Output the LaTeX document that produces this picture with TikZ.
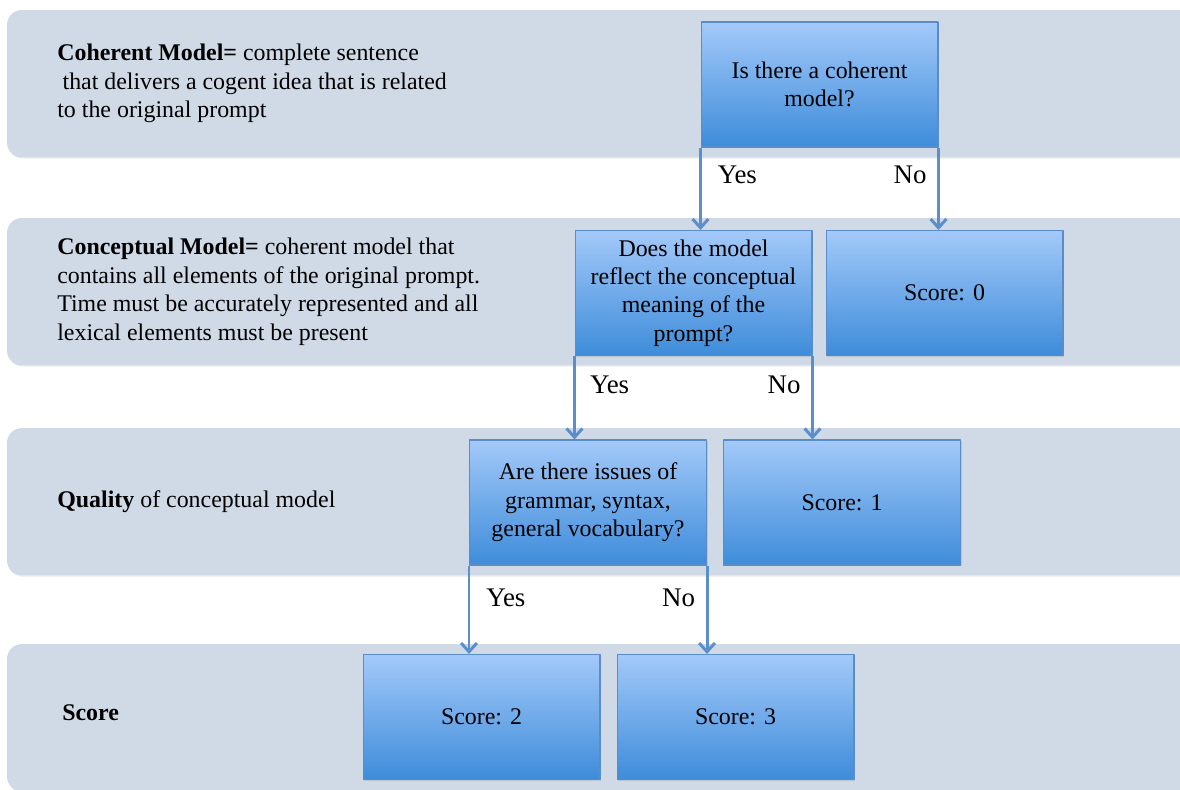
\documentclass[tikz,border=0pt]{standalone}
\usepackage{fontspec}
\setmainfont{Liberation Serif}
\usetikzlibrary{arrows.meta,shadows}
\definecolor{bandgray}{HTML}{CFDAE6}
\definecolor{boxtop}{HTML}{A3C9F9}
\definecolor{boxbot}{HTML}{3E8CDA}
\definecolor{boxline}{HTML}{5A8DC8}
\definecolor{flowblue}{HTML}{5B8FCB}
\newcommand{\txtfont}{\fontsize{13.6}{16.2}\selectfont}
\tikzset{
	band/.style={fill=bandgray, rounded corners=8.5pt, minimum width=23.9cm, minimum height=2.95cm, inner sep=0pt, outer sep=0pt,
		drop shadow={opacity=0.12, shadow xshift=0.6pt, shadow yshift=-0.8pt}},
	desc/.style={font=\txtfont, align=left, inner sep=0pt, anchor=west},
	qbox/.style={draw=boxline, line width=0.6pt, top color=boxtop, bottom color=boxbot, minimum width=4.74cm, minimum height=2.5cm,
		align=center, font=\txtfont, inner sep=2pt, drop shadow={opacity=0.25, shadow xshift=0.8pt, shadow yshift=-0.8pt}},
	flow/.style={->, draw=flowblue, line width=1.7pt},
	yn/.style={font=\fontsize{15.3}{18}\selectfont, inner sep=1pt},
}
\begin{document}
\begin{tikzpicture}[x=0.02cm, y=-0.02cm, line join=round, >={Straight Barb[length=5pt,width=9pt]}]
	\useasboundingbox (0,0) rectangle (1180,789);
	\clip (0,0) rectangle (1180,789);
	% rows
	\node[band, anchor=north west] (row1) at (7,10) {};
	\node[band, anchor=north west] (row2) at (7,218) {};
	\node[band, anchor=north west] (row3) at (7,428) {};
	\node[band, anchor=north west] (row4) at (7,644) {};
	\node[desc] (coherent) at ([xshift=1cm]row1.west) {\textbf{Coherent Model=} complete sentence\\ \hspace*{3pt}that delivers a cogent idea that is related\\ to the original prompt};
	\node[desc] (conceptual) at ([xshift=1cm]row2.west) {\textbf{Conceptual Model=} coherent model that\\ contains all elements of the original prompt.\\ Time must be accurately represented and all\\ lexical elements must be present};
	\node[desc] (quality) at ([xshift=1cm]row3.west) {\textbf{Quality} of conceptual model};
	\node[desc] (score) at ([xshift=1.1cm,yshift=0.1cm]row4.west) {\textbf{Score}};
	% boxes
	\node[qbox] (q1) at (819.5,84.5) {Is there a coherent\\ model?};
	\node[qbox] (q2) at (693.5,293) {Does the model\\ reflect the conceptual\\ meaning of the\\ prompt?};
	\node[qbox] (s0) at (944.5,293) {Score: 0};
	\node[qbox] (q3) at (588,502.5) {Are there issues of\\ grammar, syntax,\\ general vocabulary?};
	\node[qbox] (s1) at (842,502.5) {Score: 1};
	\node[qbox] (s2) at (481.5,717) {Score: 2};
	\node[qbox] (s3) at (735.5,717) {Score: 3};
	% arrows
	\draw[flow] (q1.south west) -- node[yn, pos=0.33, right=8pt] {Yes} (q1.south west |- q2.north);
	\draw[flow] (q1.south east) -- node[yn, pos=0.33, left=5pt] {No} (q1.south east |- s0.north);
	\draw[flow] (q2.south west) -- node[yn, pos=0.35, right=7pt] {Yes} (q2.south west |- q3.north);
	\draw[flow] (q2.south east) -- node[yn, pos=0.35, left=5pt] {No} (q2.south east |- s1.north);
	\draw[flow] (q3.south west) -- node[yn, pos=0.37, right=8pt] {Yes} (q3.south west |- s2.north);
	\draw[flow] (q3.south east) -- node[yn, pos=0.37, left=5pt] {No} (q3.south east |- s3.north);
\end{tikzpicture}
\end{document}
